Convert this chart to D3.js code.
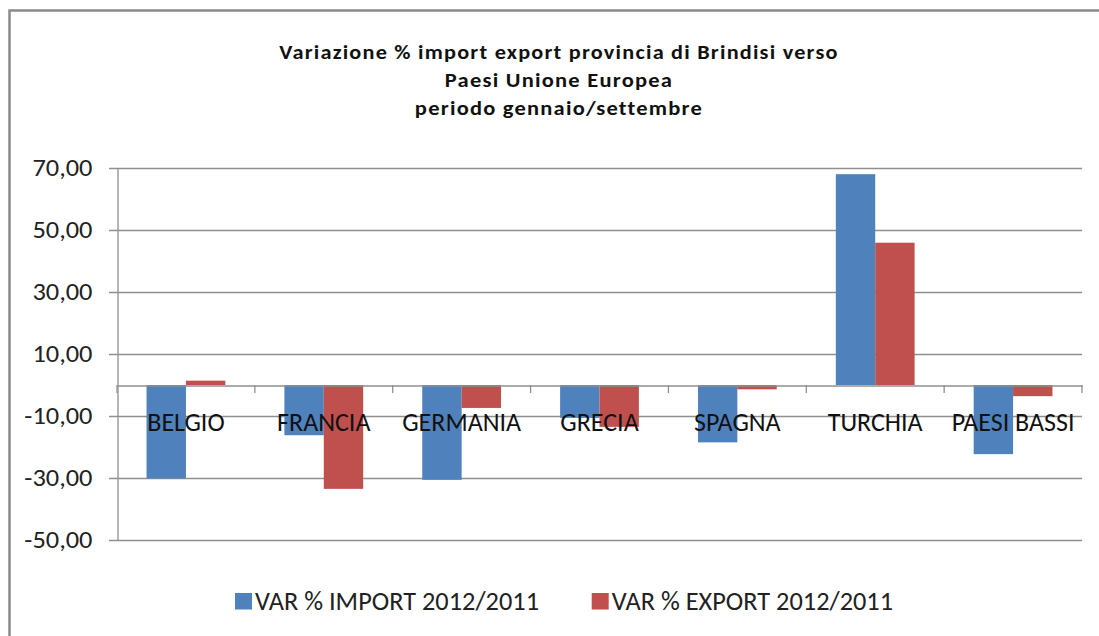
<!DOCTYPE html>
<html>
<head>
<meta charset="utf-8">
<script src="https://cdn.jsdelivr.net/npm/d3@7"></script>
<style>
  body { margin: 0; background: #fff; }
  svg { display: block; }
</style>
</head>
<body>
<script>
const categories = ["BELGIO", "FRANCIA", "GERMANIA", "GRECIA", "SPAGNA", "TURCHIA", "PAESI BASSI"];
const importVar = [-30.1, -16.2, -30.6, -10.6, -18.5, 68.0, -22.3];
const exportVar = [1.4, -33.5, -7.4, -13.5, -1.4, 45.9, -3.6];
const seriesNames = ["VAR % IMPORT 2012/2011", "VAR % EXPORT 2012/2011"];
const seriesColors = ["#4F81BD", "#C0504D"];
const yTicks = [-50, -30, -10, 10, 30, 50, 70];
const titleLines = ["Variazione % import export provincia di Brindisi verso", "Paesi Unione Europea", "periodo gennaio/settembre"];

const w = 1099;
const h = 636;
const font = "Carlito, Calibri, Lato, sans-serif";
const grid = "#8f8f8f";

// widen a text by k; optional extra letter spacing is added after measuring
function stretch(sel, k, spacing) {
  sel.each(function() {
    const len = this.getComputedTextLength();
    const t = d3.select(this);
    if (spacing) t.style("letter-spacing", spacing + "px");
    t.attr("textLength", len * k)
     .attr("lengthAdjust", "spacingAndGlyphs");
  });
}

const svg = d3.select("body")
              .append("svg")
              .attr("width", w)
              .attr("height", h);

// chart area border
svg.append("rect")
   .attr("x", 9.5)
   .attr("y", 10.5)
   .attr("width", 1110)
   .attr("height", 650)
   .attr("fill", "#fff")
   .attr("stroke", "#8a8a8a")
   .attr("stroke-width", 2.5);

const x0 = d3.scaleBand()
             .domain(categories)
             .range([117, 1082])
             .paddingInner(0)
             .paddingOuter(0);

const x1 = d3.scaleBand()
             .domain([0, 1])
             .range([0, x0.bandwidth()])
             .paddingOuter(0.75);

const yScale = d3.scaleLinear()
                 .domain([-50, 70])
                 .range([540, 168]);

const it = d3.formatLocale({decimal: ",", thousands: ".", grouping: [3], currency: ["", "€"], minus: "-"});
const fmt = it.format(".2f");

// gridlines
svg.append("g")
   .selectAll("line")
   .data(yTicks)
   .enter()
   .append("line")
   .attr("x1", 109)
   .attr("x2", 1082)
   .attr("y1", (d) => Math.round(yScale(d)) + 0.5)
   .attr("y2", (d) => Math.round(yScale(d)) + 0.5)
   .attr("stroke", grid)
   .attr("stroke-width", 1.3);

// y axis
const yAxis = d3.axisLeft(yScale).tickValues(yTicks).tickFormat(fmt).tickSize(0).tickPadding(25);
const gy = svg.append("g")
   .attr("transform", "translate(117.5, 0)")
   .call(yAxis);
gy.select(".domain").attr("stroke", grid).attr("stroke-width", 1.3);
gy.selectAll("text")
  .attr("font-family", font)
  .attr("font-size", 24)
  .attr("fill", "#222")
  .call(stretch, 1.1);

// bars
const groups = svg.append("g")
   .selectAll("g")
   .data(categories)
   .enter()
   .append("g")
   .attr("transform", (d) => "translate(" + x0(d) + ",0)");

groups.selectAll("rect")
      .data((d, i) => [importVar[i], exportVar[i]])
      .enter()
      .append("rect")
      .attr("x", (d, j) => x1(j))
      .attr("width", x1.bandwidth())
      .attr("y", (d) => yScale(Math.max(0, d)))
      .attr("height", (d) => Math.abs(yScale(d) - yScale(0)))
      .attr("fill", (d, j) => seriesColors[j]);

// category axis at zero
const xAxis = d3.axisBottom(x0).tickSize(0).tickFormat("");
const gx = svg.append("g")
   .attr("transform", "translate(0," + (Math.round(yScale(0)) + 0.5) + ")")
   .call(xAxis);
gx.select(".domain").attr("stroke", grid).attr("stroke-width", 1.3);

svg.append("g")
   .selectAll("line")
   .data(categories.concat(["end"]))
   .enter()
   .append("line")
   .attr("x1", (d) => d == "end" ? 1082 : x0(d))
   .attr("x2", (d) => d == "end" ? 1082 : x0(d))
   .attr("y1", yScale(0))
   .attr("y2", yScale(0) + 8)
   .attr("stroke", grid)
   .attr("stroke-width", 1.3);

svg.append("g")
   .selectAll("text")
   .data(categories)
   .enter()
   .append("text")
   .attr("x", (d) => x0(d) + x0.bandwidth() / 2)
   .attr("y", yScale(0) + 46)
   .attr("text-anchor", "middle")
   .attr("font-family", font)
   .attr("font-size", 26)
   .attr("fill", "#111")
   .text((d) => d);

// title
svg.append("g")
   .selectAll("text")
   .data(titleLines)
   .enter()
   .append("text")
   .attr("x", 559)
   .attr("y", (d, i) => 59 + i * 28)
   .attr("text-anchor", "middle")
   .attr("font-family", font)
   .attr("font-weight", "bold")
   .attr("font-size", 20)
   .attr("fill", "#111")
   .text((d) => d)
   .call(stretch, 1.26, 1.1);

// legend
const legend = svg.append("g")
   .selectAll("g")
   .data(seriesNames)
   .enter()
   .append("g")
   .attr("transform", (d, i) => "translate(" + [235, 591.7][i] + ",0)");
legend.append("rect")
      .attr("x", 0)
      .attr("y", 593)
      .attr("width", 17)
      .attr("height", 16.5)
      .attr("fill", (d, i) => seriesColors[i]);
legend.append("text")
      .attr("x", 20)
      .attr("y", 610)
      .attr("font-family", font)
      .attr("font-size", 26)
      .attr("fill", "#222")
      .text((d) => d)
      .call(stretch, 1.013);
</script>
</body>
</html>
